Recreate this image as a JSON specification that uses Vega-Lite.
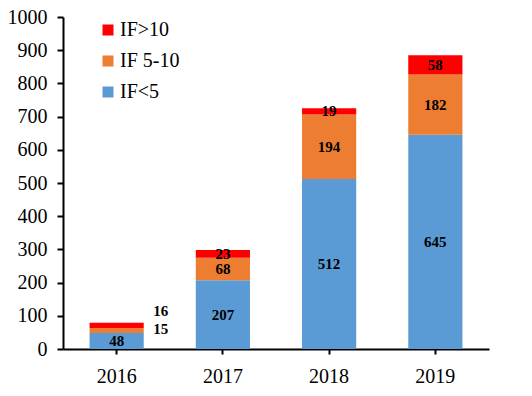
{
  "$schema": "https://vega.github.io/schema/vega-lite/v6.json",
  "width": 426,
  "height": 332,
  "autosize": {"type": "none"},
  "padding": {"left": 63, "top": 17, "right": 43, "bottom": 47},
  "config": {
    "font": "Liberation Serif",
    "view": {"stroke": null},
    "axis": {"grid": false, "domainColor": "#000", "domainWidth": 2, "tickColor": "#000", "tickWidth": 2, "labelColor": "#000", "labelFont": "Liberation Serif", "labelFontSize": 20, "title": null}
  },
  "data": {
    "values": [
      {"year": "2016", "group": "IF<5", "rank": 1, "value": 48},
      {"year": "2016", "group": "IF 5-10", "rank": 2, "value": 15},
      {"year": "2016", "group": "IF>10", "rank": 3, "value": 16},
      {"year": "2017", "group": "IF<5", "rank": 1, "value": 207},
      {"year": "2017", "group": "IF 5-10", "rank": 2, "value": 68},
      {"year": "2017", "group": "IF>10", "rank": 3, "value": 23},
      {"year": "2018", "group": "IF<5", "rank": 1, "value": 512},
      {"year": "2018", "group": "IF 5-10", "rank": 2, "value": 194},
      {"year": "2018", "group": "IF>10", "rank": 3, "value": 19},
      {"year": "2019", "group": "IF<5", "rank": 1, "value": 645},
      {"year": "2019", "group": "IF 5-10", "rank": 2, "value": 182},
      {"year": "2019", "group": "IF>10", "rank": 3, "value": 58}
    ]
  },
  "encoding": {
    "x": {"field": "year", "type": "nominal", "scale": {"paddingInner": 0.49, "paddingOuter": 0.25},
          "axis": {"labelAngle": 0, "tickSize": 5, "labelPadding": 12}}
  },
  "layer": [
    {
      "mark": {"type": "bar"},
      "encoding": {
        "y": {"field": "value", "type": "quantitative", "stack": "zero",
              "scale": {"domain": [0, 1000]},
              "axis": {"values": [0,100,200,300,400,500,600,700,800,900,1000], "format": "d", "labelOverlap": false, "labelFlush": false, "tickSize": 6, "labelPadding": 10}},
        "order": {"field": "rank", "type": "quantitative"},
        "color": {"field": "group", "type": "nominal",
                  "scale": {"domain": ["IF>10", "IF 5-10", "IF<5"], "range": ["#FF0000", "#ED7D31", "#5B9BD5"]},
                  "legend": {"title": null, "orient": "none", "legendX": 35, "legendY": 3, "symbolType": "square", "symbolSize": 121, "symbolStrokeWidth": 0, "symbolOpacity": 1, "labelFontSize": 20, "labelColor": "#000", "labelFont": "Liberation Serif", "labelOffset": 2, "rowPadding": 11, "padding": 0}}
      }
    },
    {
      "transform": [
        {"stack": "value", "groupby": ["year"], "sort": [{"field": "rank", "order": "ascending"}], "as": ["y0", "y1"]},
        {"filter": "datum.year != '2016' || datum.group == 'IF<5'"},
        {"fold": ["y0", "y1"], "as": ["k", "v"]}
      ],
      "mark": {"type": "text", "fontWeight": "bold", "fontSize": 15, "color": "#000", "baseline": "middle", "align": "center"},
      "encoding": {
        "y": {"aggregate": "mean", "field": "v", "type": "quantitative",
              "axis": {"values": [0,100,200,300,400,500,600,700,800,900,1000], "format": "d", "labelOverlap": false, "labelFlush": false, "tickSize": 6, "labelPadding": 10}},
        "detail": {"field": "group"},
        "text": {"field": "value", "type": "quantitative"}
      }
    },
    {
      "transform": [
        {"stack": "value", "groupby": ["year"], "sort": [{"field": "rank", "order": "ascending"}], "as": ["y0", "y1"]},
        {"filter": "datum.year == '2016' && datum.group == 'IF 5-10'"},
        {"fold": ["y0", "y1"], "as": ["k", "v"]}
      ],
      "mark": {"type": "text", "fontWeight": "bold", "fontSize": 15, "color": "#000", "baseline": "middle", "align": "center", "dx": 44, "dy": -2},
      "encoding": {
        "y": {"aggregate": "mean", "field": "v", "type": "quantitative",
              "axis": {"values": [0,100,200,300,400,500,600,700,800,900,1000], "format": "d", "labelOverlap": false, "labelFlush": false, "tickSize": 6, "labelPadding": 10}},
        "detail": {"field": "group"},
        "text": {"field": "value", "type": "quantitative"}
      }
    },
    {
      "transform": [
        {"stack": "value", "groupby": ["year"], "sort": [{"field": "rank", "order": "ascending"}], "as": ["y0", "y1"]},
        {"filter": "datum.year == '2016' && datum.group == 'IF>10'"},
        {"fold": ["y0", "y1"], "as": ["k", "v"]}
      ],
      "mark": {"type": "text", "fontWeight": "bold", "fontSize": 15, "color": "#000", "baseline": "middle", "align": "center", "dx": 44, "dy": -14},
      "encoding": {
        "y": {"aggregate": "mean", "field": "v", "type": "quantitative",
              "axis": {"values": [0,100,200,300,400,500,600,700,800,900,1000], "format": "d", "labelOverlap": false, "labelFlush": false, "tickSize": 6, "labelPadding": 10}},
        "detail": {"field": "group"},
        "text": {"field": "value", "type": "quantitative"}
      }
    }
  ]
}
